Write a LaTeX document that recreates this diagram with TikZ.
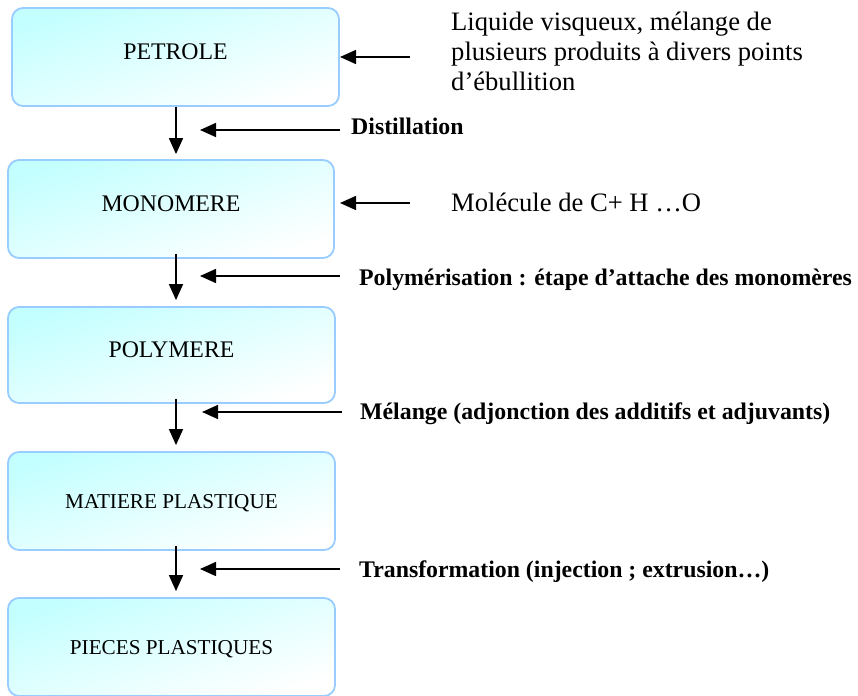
\documentclass[tikz,border=0pt]{standalone}
\usepackage{fontspec}
\setmainfont{Liberation Serif}
\usetikzlibrary{arrows.meta}
\definecolor{boxcyan}{RGB}{196,255,255}
\definecolor{boxline}{RGB}{153,204,255}
\begin{document}
\begin{tikzpicture}[x=1pt,y=-1pt,
  box/.style={draw=boxline, line width=1.8pt, rounded corners=11pt,
    top color=boxcyan, bottom color=white, shading angle=18,
    inner sep=0pt, minimum width=327pt, minimum height=98pt},
  bigtxt/.style={font=\fontsize{23.8}{28}\selectfont, text depth=10pt},
  smalltxt/.style={font=\fontsize{21.2}{25}\selectfont, text depth=0pt},
  note/.style={font=\fontsize{26.6}{30}\selectfont, inner sep=0pt},
  step lbl/.style={font=\fontsize{23.8}{28}\selectfont\bfseries, inner sep=0pt},
  arr/.style={line width=1.6pt, -{Triangle[length=16pt,width=14pt]}},
  varr/.style={arr, shorten <=-5pt, shorten >=6pt}]
\useasboundingbox (0,0) rectangle (858,695);

% boxes
\node[box, bigtxt] (p) at (175.5,57) {PETROLE};
\node[box, bigtxt, minimum width=326pt] (m) at (171,209) {MONOMERE};
\node[box, bigtxt, minimum height=96pt] (po) at (171.5,355) {POLYMERE};
\node[box, smalltxt] (ma) at (171.5,501) {MATIERE PLASTIQUE};
\node[box, smalltxt] (pi) at (171.5,647) {PIECES PLASTIQUES};

% vertical arrows
\coordinate (vx) at (176,0);
\draw[arr, shorten >=5pt] (p.south -| vx) -- (m.north -| vx);
\draw[varr] (m.south -| vx) -- (po.north -| vx);
\draw[varr] (po.south -| vx) -- (ma.north -| vx);
\draw[varr] (ma.south -| vx) -- (pi.north -| vx);

% side arrows to boxes
\coordinate (a1) at (410,57);  \coordinate (b1) at (340,57);
\coordinate (a2) at (410,203); \coordinate (b2) at (340,203);
\draw[arr] (a1) -- (b1);
\draw[arr] (a2) -- (b2);

% side arrows between boxes
\coordinate (c1) at (340,130); \coordinate (e1) at (200,130);
\coordinate (c2) at (340,276); \coordinate (e2) at (200,276);
\coordinate (c3) at (342,412); \coordinate (e3) at (202,412);
\coordinate (c4) at (340,569); \coordinate (e4) at (200,569);
\draw[arr] (c1) -- (e1);
\draw[arr] (c2) -- (e2);
\draw[arr] (c3) -- (e3);
\draw[arr] (c4) -- (e4);

% notes
\node[note, align=left, anchor=north west] (liq) at (451,11.5)
  {Liquide visqueux, mélange de\\plusieurs produits à divers points\\d’ébullition};
\node[note, anchor=base west] (mol) at (451,211) {Molécule de C+ H …O};

% step labels
\node[step lbl, anchor=base west] (dist) at (351,135) {Distillation};
\node[step lbl, anchor=base west] (poly) at (359,285) {Polymérisation : étape d’attache des monomères};
\node[step lbl, anchor=base west] (mel) at (360,419) {Mélange (adjonction des additifs et adjuvants)};
\node[step lbl, anchor=base west] (trans) at (359,577) {Transformation (injection ; extrusion…)};
\end{tikzpicture}
\end{document}
